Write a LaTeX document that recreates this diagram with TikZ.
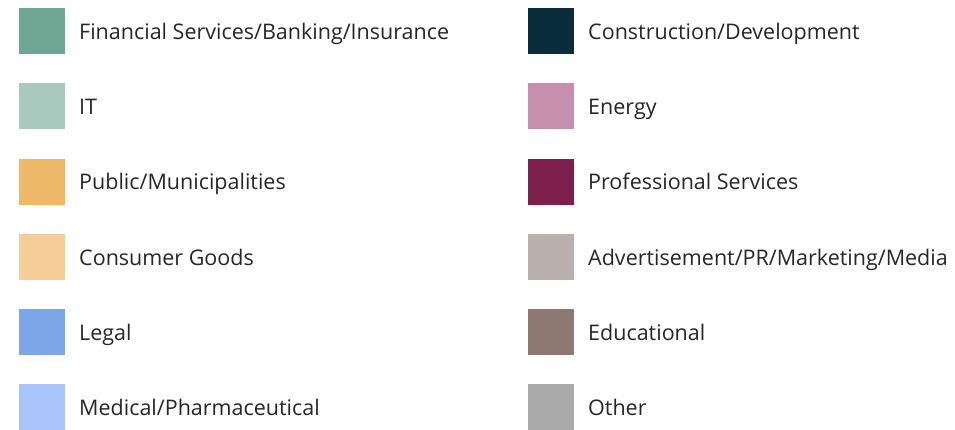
\documentclass[tikz,border=0pt]{standalone}
\usepackage{fontspec}
\setmainfont{Open Sans}
\definecolor{finance}{HTML}{6FA693}
\definecolor{itcol}{HTML}{A9C9BF}
\definecolor{public}{HTML}{EFB96A}
\definecolor{consumer}{HTML}{F4CD98}
\definecolor{legal}{HTML}{7BA6E8}
\definecolor{medical}{HTML}{A9C5F9}
\definecolor{construct}{HTML}{0A2D3C}
\definecolor{energy}{HTML}{C58FAD}
\definecolor{profserv}{HTML}{7D1F4C}
\definecolor{advert}{HTML}{BCB0AE}
\definecolor{educ}{HTML}{8E7A72}
\definecolor{other}{HTML}{AAAAAA}
\begin{document}
\begin{tikzpicture}[x=1pt, y=-1pt, font=\fontsize{21.5}{25}\selectfont,
	swatch/.style={anchor=north west, inner sep=0, minimum size=46pt},
	entry/.style={anchor=base west, inner sep=0, text=black!85}]
	\useasboundingbox (0,0) rectangle (955,430);
	\def\dy{75.2}
	% left column
	\foreach \i/\c/\t in {0/finance/{Financial Services/Banking/Insurance},1/itcol/{IT},2/public/{Public/Municipalities},3/consumer/{Consumer Goods},4/legal/{Legal},5/medical/{Medical/Pharmaceutical}}{
		\node[swatch, fill=\c] (swL\i) at (19,8+\dy*\i) {};
		\node[entry] (txtL\i) at (79,39.5+\dy*\i) {\t};
	}
	% right column
	\foreach \i/\c/\t in {0/construct/{Construction/Development},1/energy/{Energy},2/profserv/{Professional Services},3/advert/{Advertisement/PR/Marketing/Media},4/educ/{Educational},5/other/{Other}}{
		\node[swatch, fill=\c] (swR\i) at (528,8+\dy*\i) {};
		\node[entry] (txtR\i) at (588,39.5+\dy*\i) {\t};
	}
\end{tikzpicture}
\end{document}
